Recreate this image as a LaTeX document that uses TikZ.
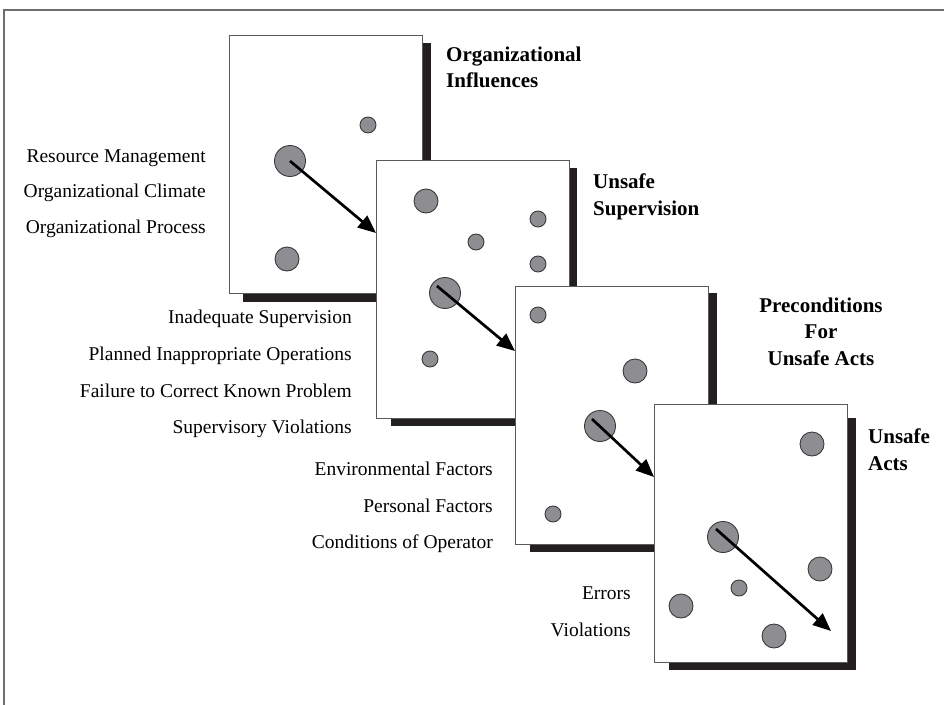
\documentclass[tikz,border=0pt]{standalone}
\usepackage{fontspec}
\setmainfont{Liberation Serif}
\usetikzlibrary{arrows.meta}
\definecolor{shadowc}{HTML}{231F20}
\definecolor{dotfill}{HTML}{8E8E92}
\definecolor{dotline}{HTML}{3A3A3A}
\definecolor{panelline}{HTML}{5A5A5A}
\definecolor{framec}{HTML}{6E6E6E}
\begin{document}
\begin{tikzpicture}[x=1pt,y=-1pt,
  panel/.style={draw=panelline, line width=1pt, fill=white, minimum width=193pt, minimum height=258pt, inner sep=0pt, outer sep=0pt},
  dotS/.style={circle, draw=dotline, line width=0.9pt, fill=dotfill, minimum size=16pt, inner sep=0pt},
  dotM/.style={dotS, minimum size=24pt},
  dotL/.style={dotS, minimum size=31pt},
  arr/.style={line width=2.7pt, -{Triangle[length=18pt,width=15pt]}},
  lbl/.style={font=\fontsize{19.5}{23}\selectfont, anchor=base east, inner sep=0pt},
  ttl/.style={font=\fontsize{21}{26.5}\selectfont\bfseries, inner sep=0pt},
  shadowbox/.style={fill=shadowc}]
\useasboundingbox (0,0) rectangle (944,704);
\fill[white] (0,0) rectangle (944,704);
% outer frame
\draw[framec, line width=1.5pt] (4,710) -- (4,10) -- (950,10);

% ---------- panel 1 ----------
\fill[shadowbox] (243,43) rectangle (431,302);
\node[panel] (p1) at (325.5,164) {};
\node[dotS] (d1a) at (368,125) {};
\node[dotL] (d1b) at (290,161) {};
\node[dotM] (d1c) at (287,259) {};
\node[ttl, anchor=base west] (t1a) at (446,61) {Organizational};
\node[ttl, anchor=base west] (t1b) at (446,87) {Influences};
\node[lbl] (l1a) at (206,162) {Resource Management};
\node[lbl] (l1b) at (206,197) {Organizational Climate};
\node[lbl] (l1c) at (206,233) {Organizational Process};
\coordinate (e1) at (376,233);
\draw[arr] (d1b.center) -- (e1);

% ---------- panel 2 ----------
\fill[shadowbox] (391,168) rectangle (577,426);
\node[panel] (p2) at (472.5,289.5) {};
\node[dotM] (d2a) at (426,201) {};
\node[dotS] (d2b) at (538,219) {};
\node[dotS] (d2c) at (476,242) {};
\node[dotS] (d2d) at (538,264) {};
\node[dotL] (d2e) at (445,293) {};
\node[dotS] (d2f) at (430,359) {};
\node[ttl, anchor=base west] (t2a) at (593,188) {Unsafe};
\node[ttl, anchor=base west] (t2b) at (593,215) {Supervision};
\node[lbl] (l2a) at (352,323) {Inadequate Supervision};
\node[lbl] (l2b) at (352,360) {Planned Inappropriate Operations};
\node[lbl] (l2c) at (352,397) {Failure to Correct Known Problem};
\node[lbl] (l2d) at (352,433) {Supervisory Violations};
\coordinate (s2) at (437,286);
\coordinate (e2) at (515,351);
\draw[arr] (s2) -- (e2);

% ---------- panel 3 ----------
\fill[shadowbox] (530,293) rectangle (717,552);
\node[panel] (p3) at (612,415) {};
\node[dotS] (d3a) at (538,315) {};
\node[dotM] (d3b) at (635,371) {};
\node[dotL] (d3c) at (600,426) {};
\node[dotS] (d3d) at (553,514) {};
\node[ttl, anchor=base] (t3a) at (821,312) {Preconditions};
\node[ttl, anchor=base] (t3b) at (821,338) {For};
\node[ttl, anchor=base] (t3c) at (821,365) {Unsafe Acts};
\node[lbl] (l3a) at (493,475) {Environmental Factors};
\node[lbl] (l3b) at (493,512) {Personal Factors};
\node[lbl] (l3c) at (493,548) {Conditions of Operator};
\coordinate (s3) at (592,419);
\coordinate (e3) at (654,477);
\draw[arr] (s3) -- (e3);

% ---------- panel 4 ----------
\fill[shadowbox] (669,418) rectangle (856,670);
\node[panel] (p4) at (751,533) {};
\node[dotM] (d4a) at (812,444) {};
\node[dotL] (d4b) at (723,537) {};
\node[dotM] (d4c) at (820,569) {};
\node[dotS] (d4d) at (739,588) {};
\node[dotM] (d4e) at (681,606) {};
\node[dotM] (d4f) at (774,636) {};
\node[ttl, anchor=base west] (t4a) at (868,443) {Unsafe};
\node[ttl, anchor=base west] (t4b) at (868,470) {Acts};
\node[lbl] (l4a) at (631,599) {Errors};
\node[lbl] (l4b) at (631,636) {Violations};
\coordinate (s4) at (716,529);
\coordinate (e4) at (831,631);
\draw[arr] (s4) -- (e4);
\end{tikzpicture}
\end{document}
